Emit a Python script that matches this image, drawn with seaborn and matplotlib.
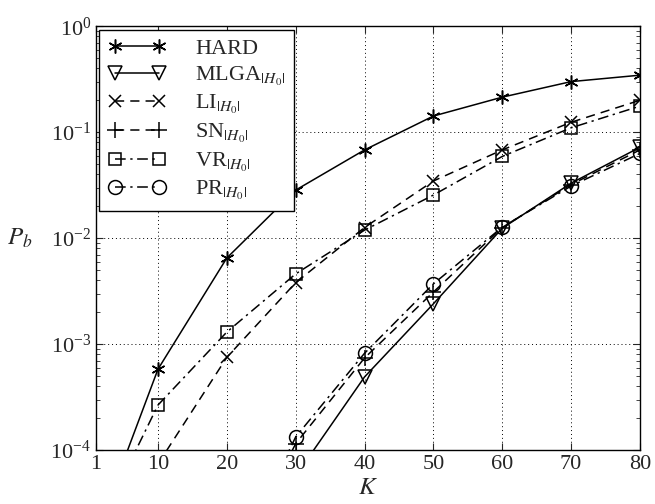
import numpy as np
import pandas as pd
import matplotlib
matplotlib.use('Agg')
import matplotlib.pyplot as plt
import seaborn as sns

# numero de usuarios K e probabilidade de erro de bit P_b
K = [1, 10, 20, 30, 40, 50, 60, 70, 80]
hard = [1.6e-5, 5.8e-4, 6.5e-3, 0.0284, 0.068, 0.142, 0.214, 0.30, 0.345]
mlga = [np.nan, np.nan, 1e-6, 5.7e-5, 4.9e-4, 2.4e-3, 0.0124, 0.033, 0.072]
li = [np.nan, 7.4e-5, 7.5e-4, 3.8e-3, 0.0126, 0.0346, 0.068, 0.124, 0.20]
sn = [np.nan, np.nan, 6e-6, 1.15e-4, 7.4e-4, 3.1e-3, 0.0126, 0.032, 0.068]
vr = [1.7e-5, 2.66e-4, 1.3e-3, 4.6e-3, 0.0119, 0.0255, 0.059, 0.11, 0.176]
pr = [np.nan, np.nan, 6e-6, 1.33e-4, 8.2e-4, 3.7e-3, 0.0127, 0.031, 0.063]

nomes = ['HARD', r'MLGA$_{|H_0|}$', r'LI$_{|H_0|}$', r'SN$_{|H_0|}$',
         r'VR$_{|H_0|}$', r'PR$_{|H_0|}$']
series = [hard, mlga, li, sn, vr, pr]
estilos = [
    dict(marker=(6, 2, 0), markersize=10, linestyle='-'),
    dict(marker='v', markersize=10, linestyle='-'),
    dict(marker='x', markersize=8, linestyle=(0, (6, 4))),
    dict(marker='+', markersize=11, linestyle=(0, (6, 4))),
    dict(marker='s', markersize=8, linestyle=(0, (7, 3, 1.5, 3))),
    dict(marker='o', markersize=10, linestyle=(0, (7, 3, 1.5, 3))),
]

sns.set_style('ticks')
plt.rcParams['font.family'] = ['Liberation Serif', 'DejaVu Serif']
plt.rcParams['mathtext.fontset'] = 'stix'

fig = plt.figure(figsize=(6.55, 5.04), dpi=100)
ax = fig.add_axes([0.1466, 0.107, 0.8304, 0.841])

for nome, vals, est in zip(nomes, series, estilos):
    df = pd.DataFrame({'K': K, 'Pb': vals}).dropna()
    sns.lineplot(data=df, x='K', y='Pb', ax=ax, color='k', linewidth=1.1,
                 markerfacecolor='none', markeredgecolor='k', markeredgewidth=1.1,
                 label=nome, **est)

ax.set_yscale('log')
ax.set_xlim(1, 80)
ax.set_ylim(1e-4, 1)
ax.set_xticks([1, 10, 20, 30, 40, 50, 60, 70, 80])
ax.set_yticks([1e-4, 1e-3, 1e-2, 1e-1, 1])
ax.tick_params(which='both', direction='in', top=True, right=True, labelsize=16)
ax.tick_params(which='major', length=5)
ax.tick_params(which='minor', length=3)
ax.tick_params(axis='x', which='minor', bottom=False, top=False)
ax.grid(True, which='major', linestyle=(0, (1, 3)), color='k', linewidth=0.7)
for s in ax.spines.values():
    s.set_color('k')
    s.set_linewidth(1.0)

ax.set_xlabel('$K$', fontsize=18, labelpad=2)
ax.set_ylabel('$P_b$', fontsize=18, rotation=0, labelpad=22, va='center')

leg = ax.legend(loc='upper left', fontsize=16, numpoints=2, handlelength=2.6,
                borderaxespad=0.15, fancybox=False, framealpha=1,
                edgecolor='k', labelspacing=0.25, handletextpad=1.3,
                borderpad=0.4)
leg.get_frame().set_linewidth(1.0)

fig.savefig('out.png', dpi=100)
